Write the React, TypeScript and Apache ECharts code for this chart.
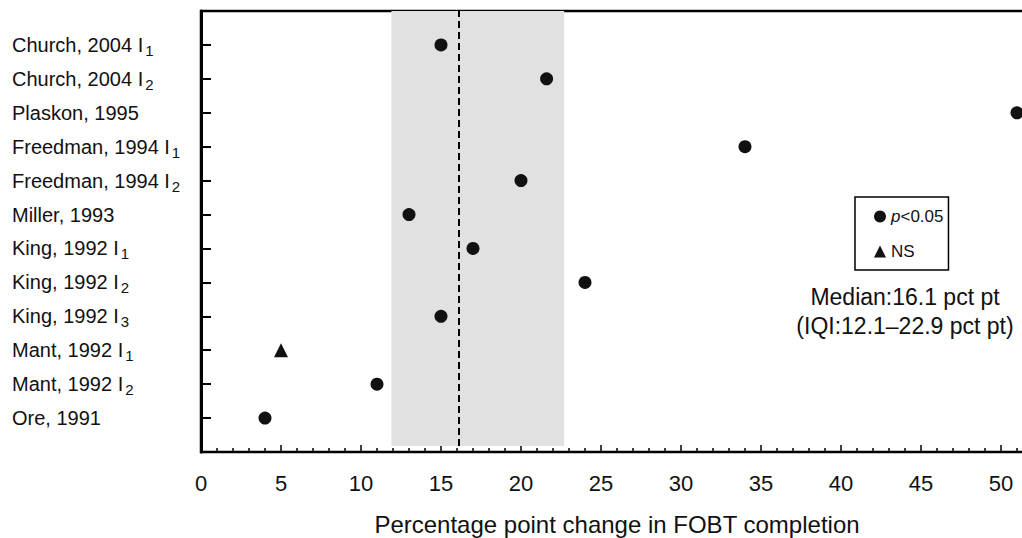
import React, { useEffect, useRef } from "react";
import * as echarts from "echarts";

// Studies, top to bottom
const studyNames = [
  "Church, 2004 I",
  "Church, 2004 I",
  "Plaskon, 1995",
  "Freedman, 1994 I",
  "Freedman, 1994 I",
  "Miller, 1993",
  "King, 1992 I",
  "King, 1992 I",
  "King, 1992 I",
  "Mant, 1992 I",
  "Mant, 1992 I",
  "Ore, 1991",
];
const studySubs = ["1", "2", "", "1", "2", "", "1", "2", "3", "1", "2", ""];
// Percentage point change in FOBT completion
const changeValues = [15, 21.6, 51, 34, 20, 13, 17, 24, 15, 5, 11, 4];
const significant = [true, true, true, true, true, true, true, true, true, false, true, true];

const medianValue = 16.1;
const iqiLow = 11.9;
const iqiHigh = 22.7;

const FONT = "'Liberation Sans', Arial, Helvetica, sans-serif";
const INK = "#111";

export default function App() {
  const ref = useRef<HTMLDivElement>(null);

  useEffect(() => {
    if (!ref.current) return;
    const chart = echarts.init(ref.current, undefined, { renderer: "svg" });
    const n = studyNames.length;

    const sigData: number[][] = [];
    const nsData: number[][] = [];
    changeValues.forEach((v, i) => {
      const pt = [v, n - i];
      if (significant[i]) sigData.push(pt);
      else nsData.push(pt);
    });

    const option: any = {
      animation: false,
      textStyle: { fontFamily: FONT, color: INK },
      grid: {
        left: 201,
        top: 11,
        width: 880,
        height: 441,
        outerBoundsMode: "none",
        containLabel: false,
        show: true,
        borderColor: "#000",
        borderWidth: 2.5,
        backgroundColor: "transparent",
      },
      xAxis: {
        type: "value",
        min: 0,
        max: 55,
        interval: 5,
        axisLine: { show: true, lineStyle: { color: "#000", width: 2 } },
        axisTick: { show: true, inside: true, length: 7, lineStyle: { color: "#000", width: 1.5 } },
        minorTick: { show: true, splitNumber: 5, length: 4, lineStyle: { color: "#000", width: 1.5 } },
        splitLine: { show: false },
        minorSplitLine: { show: false },
        axisLabel: {
          formatter: (v: number) => (v <= 50 ? String(v) : ""),
          fontSize: 22,
          margin: 20,
          color: INK,
          fontFamily: FONT,
        },
      },
      yAxis: {
        type: "value",
        min: 0,
        max: n + 1,
        interval: 1,
        axisLine: { show: true, lineStyle: { color: "#000", width: 3 } },
        axisTick: { show: true, inside: true, length: 10, lineStyle: { color: "#000", width: 2 } },
        splitLine: { show: false },
        axisLabel: {
          align: "left",
          margin: 189,
          color: INK,
          fontFamily: FONT,
          formatter: (v: number) => {
            const i = n - v;
            if (i < 0 || i >= n) return "";
            const name = studyNames[i];
            const sub = studySubs[i];
            return sub ? `{n|${name}}{s|${sub}}` : `{n|${name}}`;
          },
          rich: {
            n: { fontSize: 20, color: INK, fontFamily: FONT },
            s: { fontSize: 15, color: INK, fontFamily: FONT, padding: [11, 0, 0, 2] },
          },
        },
      },
      legend: {
        data: ["p<0.05", "NS"],
        orient: "vertical",
        left: 855,
        top: 197,
        padding: [11, 5, 10, 19],
        borderColor: "#000",
        borderWidth: 1.5,
        itemWidth: 12,
        itemHeight: 12,
        itemGap: 18,
        selectedMode: false,
        textStyle: {
          fontSize: 17,
          color: INK,
          fontFamily: FONT,
          rich: {
            i: { fontStyle: "italic", fontSize: 17, color: INK, fontFamily: FONT },
            n: { fontSize: 17, color: INK, fontFamily: FONT },
          },
        },
        formatter: (name: string) => (name === "p<0.05" ? "{i|p}{n|<0.05}" : "{n|NS}"),
      },
      graphic: [
        {
          type: "text",
          x: 617,
          y: 524,
          style: {
            text: "Percentage point change in FOBT completion",
            fontSize: 24,
            fontFamily: FONT,
            fill: INK,
            textAlign: "center",
            textVerticalAlign: "middle",
          },
        },
        {
          type: "text",
          x: 905,
          y: 297,
          style: {
            text: "Median:16.1 pct pt",
            fontSize: 23,
            fontFamily: FONT,
            fill: INK,
            textAlign: "center",
            textVerticalAlign: "middle",
          },
        },
        {
          type: "text",
          x: 905,
          y: 326,
          style: {
            text: "(IQI:12.1\u201322.9 pct pt)",
            fontSize: 23,
            fontFamily: FONT,
            fill: INK,
            textAlign: "center",
            textVerticalAlign: "middle",
          },
        },
      ],
      series: [
        {
          name: "p<0.05",
          type: "scatter",
          symbol: "circle",
          symbolSize: 13,
          itemStyle: { color: INK, opacity: 1 },
          data: sigData,
          z: 5,
          markArea: {
            silent: true,
            itemStyle: { color: "#e1e1e1", opacity: 1 },
            data: [[{ coord: [iqiLow, 0.18] }, { coord: [iqiHigh, n + 1] }]],
          },
          markLine: {
            silent: true,
            symbol: ["none", "none"],
            label: { show: false },
            lineStyle: { color: "#000", type: [7, 4], width: 2, opacity: 1 },
            data: [[{ coord: [medianValue, 0.18] }, { coord: [medianValue, n + 1] }]],
          },
        },
        {
          name: "NS",
          type: "scatter",
          symbol: "triangle",
          symbolSize: 14,
          itemStyle: { color: INK, opacity: 1 },
          data: nsData,
          z: 5,
        },
      ],
    };

    chart.setOption(option);
    return () => chart.dispose();
  }, []);

  return (
    <div
      ref={ref}
      style={{ position: "absolute", left: 0, top: 0, width: 1022, height: 538 }}
    />
  );
}
